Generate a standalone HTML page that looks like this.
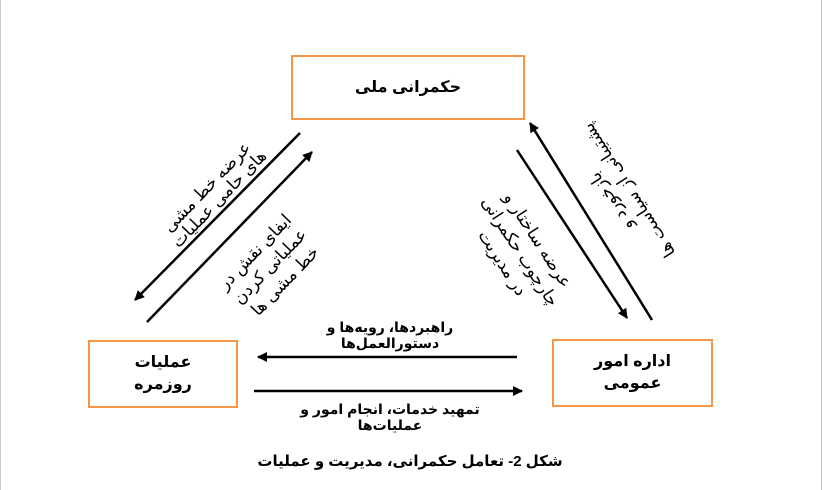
<!DOCTYPE html>
<html><head><meta charset="utf-8"><style>
body{margin:0;width:822px;height:490px;background:#fff;position:relative;overflow:hidden;font-family:"Liberation Sans","DejaVu Sans",sans-serif;}
.box{position:absolute;border:2px solid #f79646;background:#fff;display:flex;align-items:center;justify-content:center;text-align:center;font-weight:bold;font-size:16px;line-height:22px;direction:rtl}
.t{position:absolute;direction:rtl;text-align:center;white-space:nowrap;font-size:17px;line-height:21px}
.s{position:absolute;direction:rtl;text-align:center;font-weight:bold;font-size:14px;line-height:16px;white-space:nowrap}
</style></head><body>
<div style="position:absolute;left:0;top:0;width:1px;height:490px;background:#ccc"></div>
<div style="position:absolute;right:0;top:0;width:1px;height:490px;background:#ccc"></div>
<svg width="822" height="490" style="position:absolute;left:0;top:0">
<defs><marker id="a" markerWidth="10" markerHeight="10" refX="9" refY="5" orient="auto" markerUnits="userSpaceOnUse"><path d="M0,0 L10,5 L0,10 z" fill="#000"/></marker></defs>
<g stroke="#000" stroke-width="2.5" fill="none">
<line x1="300" y1="133" x2="135" y2="300" marker-end="url(#a)"/>
<line x1="147" y1="322" x2="312" y2="152" marker-end="url(#a)"/>
<line x1="517" y1="150" x2="627" y2="318" marker-end="url(#a)"/>
<line x1="652" y1="320" x2="530" y2="123" marker-end="url(#a)"/>
<line x1="517" y1="357" x2="258" y2="357" marker-end="url(#a)"/>
<line x1="254" y1="391" x2="522" y2="391" marker-end="url(#a)"/>
</g></svg>
<div class="box" style="left:291px;top:55px;width:230px;height:61px">حکمرانی ملی</div>
<div class="box" style="left:88px;top:340px;width:146px;height:64px">عملیات<br>روزمره</div>
<div class="box" style="left:552px;top:339px;width:157px;height:64px">اداره امور<br>عمومی</div>
<div class="t" style="left:128px;top:176px;width:170px;transform:rotate(-46deg);line-height:17px">عرضه خط مشی<br>های حامی عملیات</div>
<div class="t" style="left:195px;top:235px;width:150px;transform:rotate(-46deg)">ایفای نقش در<br>عملیاتی کردن<br>خط مشی ها</div>
<div class="t" style="left:445px;top:220px;width:150px;transform:rotate(57deg)">عرضه ساختار و<br>چارچوب حکمرانی<br>در مدیریت</div>
<div class="t" style="left:540px;top:175px;width:160px;transform:rotate(-123deg)">بازخورد و<br>پشتیبانی از سیاست ها</div>
<div class="s" style="left:290px;top:319px;width:200px">راهبردها، رویه‌ها و<br>دستورالعمل‌ها</div>
<div class="s" style="left:290px;top:401px;width:200px">تمهید خدمات، انجام امور و<br>عملیات‌ها</div>
<div class="s" style="left:180px;top:454px;width:460px;font-size:15px">شکل 2- تعامل حکمرانی، مدیریت و عملیات</div>
</body></html>
